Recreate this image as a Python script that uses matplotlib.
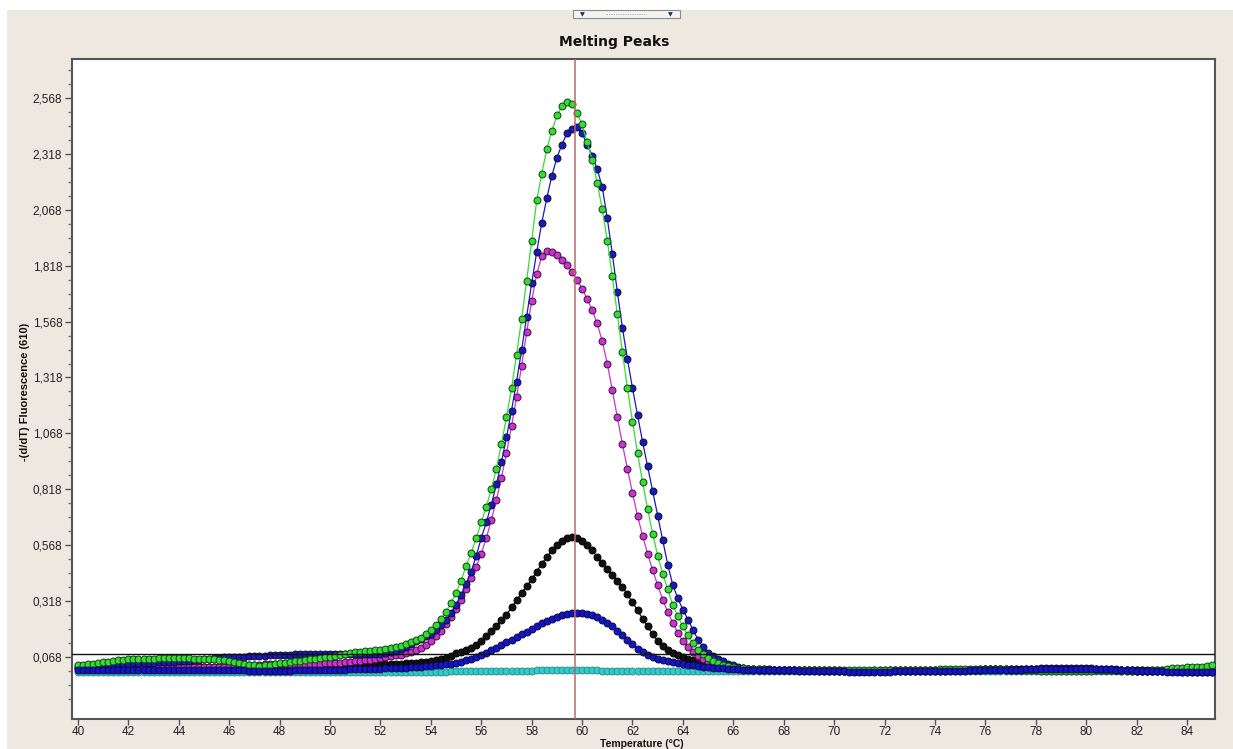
import numpy as np
import matplotlib
matplotlib.use("Agg")
import matplotlib.pyplot as plt
from matplotlib.patches import Rectangle

# ---------------- data ----------------
# temperature grid: acquisitions every 0.2 degC from 40 to 85
temperature = np.round(np.arange(40.0, 85.0001, 0.2), 1)

green = [
    .030, .032, .035, .038, .041,   # 40
    .044, .047, .050, .053, .055,   # 41
    .057, .058, .059, .060, .061,   # 42
    .061, .062, .062, .062, .062,   # 43
    .062, .062, .062, .061, .061,   # 44
    .060, .059, .058, .056, .053,   # 45
    .050, .046, .042, .038, .034,   # 46
    .030, .029, .030, .033, .036,   # 47
    .039, .042, .045, .048, .051,   # 48
    .054, .057, .060, .063, .066,   # 49
    .070, .074, .078, .082, .086,   # 50
    .089, .092, .094, .096, .098,   # 51
    .100, .103, .107, .112, .118,   # 52
    .125, .133, .142, .154, .170,   # 53
    .190, .210, .240, .270, .310,   # 54
    .355, .410, .475, .535, .600,   # 55
    .670, .740, .820, .910, 1.020,  # 56
    1.140, 1.270, 1.420, 1.580, 1.750,  # 57
    1.930, 2.110, 2.230, 2.340, 2.420,  # 58
    2.490, 2.530, 2.550, 2.540, 2.500,  # 59
    2.450, 2.370, 2.290, 2.190, 2.070,  # 60
    1.930, 1.770, 1.600, 1.430, 1.270,  # 61
    1.120, .980, .850, .730, .620,  # 62
    .520, .440, .370, .300, .250,   # 63
    .205, .165, .130, .100, .080,   # 64
    .063, .050, .040, .032, .026,   # 65
    .022, .019, .017, .015, .014,   # 66
    .013, .013, .012, .012, .012,   # 67
    .012, .011, .011, .011, .010,   # 68
    .010, .010, .010, .009, .009,   # 69
    .009, .008, .008, .008, .008,   # 70
    .008, .008, .008, .009, .009,   # 71
    .009, .010, .010, .010, .011,   # 72
    .011, .011, .012, .012, .012,   # 73
    .012, .013, .013, .013, .013,   # 74
    .014, .014, .014, .015, .015,   # 75
    .015, .015, .014, .014, .013,   # 76
    .012, .011, .010, .009, .008,   # 77
    .008, .007, .007, .007, .007,   # 78
    .006, .006, .006, .006, .006,   # 79
    .007, .007, .008, .008, .009,   # 80
    .009, .008, .007, .007, .006,   # 81
    .006, .006, .007, .008, .010,   # 82
    .012, .014, .017, .019, .021,   # 83
    .022, .023, .024, .025, .027,   # 84
    .030,                           # 85
]

blue_high = [
    .028, .029, .030, .031, .032,   # 40
    .033, .034, .035, .036, .037,   # 41
    .038, .039, .040, .041, .042,   # 42
    .043, .044, .045, .046, .047,   # 43
    .048, .050, .052, .054, .056,   # 44
    .058, .060, .062, .064, .066,   # 45
    .067, .068, .069, .070, .071,   # 46
    .072, .073, .074, .075, .076,   # 47
    .077, .078, .079, .080, .081,   # 48
    .081, .082, .082, .083, .083,   # 49
    .083, .083, .083, .082, .082,   # 50
    .081, .080, .080, .080, .081,   # 51
    .083, .086, .090, .096, .104,   # 52
    .114, .126, .138, .150, .160,   # 53
    .170, .190, .210, .235, .265,   # 54
    .300, .345, .395, .450, .520,   # 55
    .600, .670, .750, .840, .940,   # 56
    1.050, 1.170, 1.300, 1.440, 1.590,  # 57
    1.740, 1.880, 2.010, 2.120, 2.220,  # 58
    2.300, 2.360, 2.410, 2.430, 2.440,  # 59
    2.410, 2.360, 2.310, 2.250, 2.170,  # 60
    2.030, 1.870, 1.700, 1.540, 1.400,  # 61
    1.270, 1.150, 1.030, .920, .810,    # 62
    .700, .590, .480, .390, .330,   # 63
    .280, .235, .190, .145, .113,   # 64
    .086, .072, .060, .048, .038,   # 65
    .030, .024, .019, .015, .013,   # 66
    .012, .011, .011, .010, .010,   # 67
    .010, .009, .009, .009, .008,   # 68
    .008, .008, .007, .007, .006,   # 69
    .006, .005, .005, .005, .004,   # 70
    .004, .004, .004, .004, .004,   # 71
    .005, .005, .005, .006, .006,   # 72
    .006, .006, .007, .007, .007,   # 73
    .007, .007, .007, .008, .008,   # 74
    .008, .009, .010, .011, .012,   # 75
    .013, .013, .014, .014, .014,   # 76
    .014, .014, .015, .015, .016,   # 77
    .016, .017, .017, .017, .017,   # 78
    .017, .017, .017, .017, .017,   # 79
    .017, .017, .016, .016, .015,   # 80
    .014, .013, .012, .011, .010,   # 81
    .009, .008, .007, .006, .006,   # 82
    .005, .005, .004, .004, .003,   # 83
    .003, .002, .002, .002, .002,   # 84
    .002,                           # 85
]

magenta = [
    .020, .021, .022, .022, .023,   # 40
    .023, .023, .024, .024, .024,   # 41
    .024, .024, .024, .024, .024,   # 42
    .024, .024, .023, .023, .023,   # 43
    .023, .023, .023, .023, .023,   # 44
    .023, .023, .023, .024, .024,   # 45
    .025, .026, .027, .029, .031,   # 46
    .033, .034, .035, .036, .036,   # 47
    .036, .036, .036, .036, .036,   # 48
    .036, .037, .037, .038, .039,   # 49
    .040, .041, .042, .044, .046,   # 50
    .048, .050, .053, .056, .059,   # 51
    .063, .067, .071, .075, .079,   # 52
    .085, .092, .100, .110, .122,   # 53
    .140, .160, .185, .215, .247,   # 54
    .282, .325, .370, .420, .470,   # 55
    .530, .600, .680, .770, .870,   # 56
    .980, 1.100, 1.230, 1.370, 1.520,  # 57
    1.660, 1.780, 1.860, 1.885, 1.880,  # 58
    1.865, 1.845, 1.820, 1.790, 1.755,  # 59
    1.715, 1.670, 1.620, 1.560, 1.480,  # 60
    1.380, 1.260, 1.140, 1.020, .910,   # 61
    .800, .700, .610, .530, .455,   # 62
    .390, .325, .268, .220, .175,   # 63
    .140, .113, .090, .072, .058,   # 64
    .047, .038, .031, .025, .021,   # 65
    .018, .016, .014, .013, .012,   # 66
    .012, .011, .011, .011, .010,   # 67
    .010, .010, .010, .009, .009,   # 68
    .009, .009, .008, .008, .008,   # 69
    .008, .007, .007, .007, .007,   # 70
    .007, .007, .007, .008, .008,   # 71
    .008, .008, .009, .009, .009,   # 72
    .010, .010, .010, .010, .010,   # 73
    .011, .011, .011, .011, .011,   # 74
    .012, .012, .012, .012, .013,   # 75
    .013, .013, .013, .013, .012,   # 76
    .012, .011, .011, .010, .010,   # 77
    .010, .010, .009, .009, .009,   # 78
    .009, .009, .009, .009, .009,   # 79
    .009, .009, .009, .009, .009,   # 80
    .009, .008, .008, .008, .007,   # 81
    .007, .007, .007, .007, .008,   # 82
    .008, .009, .010, .011, .012,   # 83
    .013, .014, .015, .016, .017,   # 84
    .018,                           # 85
]

black = [
    .018, .018, .019, .019, .020,   # 40
    .020, .020, .021, .021, .021,   # 41
    .021, .022, .022, .022, .022,   # 42
    .022, .022, .022, .022, .022,   # 43
    .022, .022, .022, .022, .022,   # 44
    .022, .022, .022, .021, .021,   # 45
    .021, .021, .020, .020, .020,   # 46
    .020, .020, .020, .020, .020,   # 47
    .020, .020, .021, .021, .021,   # 48
    .022, .022, .023, .023, .024,   # 49
    .024, .025, .026, .027, .028,   # 50
    .029, .030, .031, .032, .033,   # 51
    .034, .035, .036, .037, .038,   # 52
    .040, .041, .043, .045, .047,   # 53
    .049, .053, .058, .064, .072,   # 54
    .085, .092, .100, .109, .122,   # 55
    .140, .162, .185, .208, .232,   # 56
    .257, .290, .322, .355, .385,   # 57
    .415, .450, .485, .515, .545,   # 58
    .568, .586, .598, .604, .600,   # 59
    .588, .570, .545, .515, .487,   # 60
    .460, .435, .410, .380, .348,   # 61
    .313, .276, .240, .205, .170,   # 62
    .140, .116, .098, .085, .075,   # 63
    .067, .060, .055, .050, .045,   # 64
    .040, .036, .032, .028, .025,   # 65
    .022, .020, .018, .016, .015,   # 66
    .014, .013, .013, .012, .012,   # 67
    .011, .011, .011, .010, .010,   # 68
    .010, .009, .009, .009, .008,   # 69
    .008, .008, .007, .007, .007,   # 70
    .007, .007, .007, .007, .007,   # 71
    .007, .008, .008, .008, .008,   # 72
    .008, .009, .009, .009, .009,   # 73
    .009, .009, .009, .010, .010,   # 74
    .010, .011, .011, .012, .012,   # 75
    .013, .013, .014, .014, .014,   # 76
    .014, .014, .014, .014, .014,   # 77
    .014, .014, .014, .014, .013,   # 78
    .013, .013, .013, .013, .013,   # 79
    .013, .013, .013, .012, .012,   # 80
    .012, .011, .011, .010, .010,   # 81
    .009, .009, .008, .008, .007,   # 82
    .007, .007, .006, .006, .006,   # 83
    .006, .006, .006, .006, .006,   # 84
    .006,                           # 85
]

blue_low = [
    .012, .012, .011, .011, .011,   # 40
    .010, .010, .010, .010, .010,   # 41
    .010, .010, .010, .010, .010,   # 42
    .010, .010, .010, .010, .010,   # 43
    .010, .010, .010, .010, .010,   # 44
    .010, .010, .009, .009, .009,   # 45
    .008, .008, .008, .008, .007,   # 46
    .007, .007, .007, .007, .007,   # 47
    .007, .007, .007, .008, .008,   # 48
    .008, .009, .009, .010, .010,   # 49
    .011, .011, .012, .012, .013,   # 50
    .013, .014, .014, .015, .015,   # 51
    .016, .017, .018, .019, .020,   # 52
    .021, .022, .023, .025, .026,   # 53
    .028, .030, .032, .035, .038,   # 54
    .042, .047, .053, .060, .068,   # 55
    .077, .087, .098, .110, .122,   # 56
    .134, .146, .158, .170, .182,   # 57
    .194, .206, .218, .230, .240,   # 58
    .249, .256, .262, .265, .266,   # 59
    .264, .260, .254, .246, .235,   # 60
    .222, .205, .186, .165, .145,   # 61
    .125, .106, .090, .077, .067,   # 62
    .059, .053, .048, .044, .040,   # 63
    .036, .033, .030, .027, .025,   # 64
    .022, .020, .018, .017, .015,   # 65
    .014, .013, .012, .012, .011,   # 66
    .010, .010, .009, .009, .009,   # 67
    .008, .008, .008, .007, .007,   # 68
    .007, .006, .006, .006, .005,   # 69
    .005, .004, .004, .003, .003,   # 70
    .002, .002, .002, .002, .002,   # 71
    .003, .003, .004, .004, .004,   # 72
    .005, .005, .005, .005, .005,   # 73
    .005, .005, .005, .006, .006,   # 74
    .006, .007, .008, .009, .010,   # 75
    .011, .011, .012, .012, .012,   # 76
    .012, .012, .012, .013, .013,   # 77
    .014, .014, .015, .015, .015,   # 78
    .015, .015, .015, .015, .015,   # 79
    .015, .015, .015, .014, .014,   # 80
    .013, .012, .010, .009, .008,   # 81
    .007, .006, .005, .005, .004,   # 82
    .004, .003, .003, .002, .002,   # 83
    .001, .001, .000, .000, .000,   # 84
    .000,                           # 85
]

cyan = [
    .003, .003, .003, .003, .003,   # 40
    .003, .003, .003, .003, .003,   # 41
    .003, .003, .003, .003, .003,   # 42
    .003, .003, .003, .003, .003,   # 43
    .003, .003, .003, .003, .003,   # 44
    .002, .002, .002, .002, .002,   # 45
    .002, .002, .002, .002, .002,   # 46
    .002, .002, .002, .002, .002,   # 47
    .002, .002, .002, .002, .002,   # 48
    .002, .002, .002, .002, .002,   # 49
    .002, .002, .002, .002, .002,   # 50
    .002, .002, .002, .002, .002,   # 51
    .002, .002, .002, .002, .002,   # 52
    .002, .002, .002, .003, .003,   # 53
    .003, .003, .003, .003, .004,   # 54
    .004, .004, .004, .004, .005,   # 55
    .005, .005, .005, .006, .006,   # 56
    .006, .006, .007, .007, .007,   # 57
    .007, .008, .008, .008, .008,   # 58
    .008, .008, .008, .008, .008,   # 59
    .008, .008, .008, .008, .007,   # 60
    .007, .007, .007, .006, .006,   # 61
    .006, .006, .005, .005, .005,   # 62
    .005, .005, .005, .004, .004,   # 63
    .004, .004, .004, .004, .004,   # 64
    .004, .004, .004, .004, .004,   # 65
    .004, .004, .004, .004, .004,   # 66
    .004, .004, .004, .004, .004,   # 67
    .004, .004, .004, .004, .004,   # 68
    .004, .004, .004, .004, .004,   # 69
    .004, .004, .004, .004, .004,   # 70
    .004, .004, .004, .004, .004,   # 71
    .004, .004, .004, .004, .004,   # 72
    .004, .004, .004, .004, .004,   # 73
    .004, .004, .004, .004, .004,   # 74
    .004, .004, .004, .004, .004,   # 75
    .004, .004, .004, .004, .004,   # 76
    .004, .004, .004, .004, .004,   # 77
    .004, .004, .004, .004, .004,   # 78
    .004, .004, .004, .004, .004,   # 79
    .004, .004, .004, .004, .004,   # 80
    .004, .004, .004, .004, .004,   # 81
    .004, .004, .004, .004, .004,   # 82
    .004, .004, .004, .004, .004,   # 83
    .004, .004, .004, .004, .004,   # 84
    .004,                           # 85
]

y_tick_values = [0.068 + 0.25 * k for k in range(11)]
x_tick_values = list(range(40, 86, 2))
threshold_value = 0.080
tm_marker = 59.72

title_text = "Melting Peaks"
x_label = "Temperature (°C)"
y_label = "-(d/dT) Fluorescence (610)"

# ---------------- figure ----------------
W, H = 1233, 749
fig = plt.figure(figsize=(W / 100, H / 100), dpi=100, facecolor="white")
beige = "#EEE9E0"
fig.patches.append(Rectangle((7 / W, 0), 1 - 7 / W, (H - 10) / H,
                             transform=fig.transFigure, facecolor=beige,
                             edgecolor="none", zorder=-10))

# small drop-down control at the top
cx0, cx1, cy0, cy1 = 573, 680, 10, 18
fig.patches.append(Rectangle((cx0 / W, 1 - cy1 / H), (cx1 - cx0) / W, (cy1 - cy0) / H,
                             transform=fig.transFigure, facecolor="#F4F3EF",
                             edgecolor="#8A8A8A", linewidth=0.8, zorder=5))
fig.text(582 / W, 1 - 14.5 / H, "▼", fontsize=4.5, color="#1C2B5A",
         ha="center", va="center", zorder=6)
fig.text(670 / W, 1 - 14.5 / H, "▼", fontsize=4.5, color="#1C2B5A",
         ha="center", va="center", zorder=6)
fig.text(626 / W, 1 - 15 / H, "·" * 24, fontsize=4, color="#3A4A7A",
         ha="center", va="center", zorder=6)

fig.text(614 / W, 1 - 42 / H, title_text, fontsize=10, fontweight="bold",
         ha="center", va="center", color="#111111", family="DejaVu Sans")

ax = fig.add_axes([72 / W, 1 - 719 / H, (1215 - 72) / W, (719 - 59) / H])
ax.set_facecolor("white")

xmin = 40 - 6 / 25.2
xmax = 84 + 28 / 25.2
ymin = 0.068 - (719 - 657) / 223.6
ymax = 2.568 + (98 - 59) / 223.6
ax.set_xlim(xmin, xmax)
ax.set_ylim(ymin, ymax)

series = [
    (cyan, "#33CCCC", "#2A8F8F"),
    (black, "#111111", "#000000"),
    (magenta, "#CC33CC", "#3A103A"),
    (blue_high, "#1A1AB5", "#0A0A40"),
    (green, "#33DD33", "#153F15"),
    (blue_low, "#1414C8", "#0A0A40"),
]
for vals, face, edge in series:
    ax.plot(temperature, vals, "-", color=face, linewidth=0.9, zorder=3,
            marker="o", markersize=5.0, markerfacecolor=face,
            markeredgecolor=edge, markeredgewidth=0.7)

ax.axhline(threshold_value, color="#111111", linewidth=1.0, zorder=4)
ax.axvline(tm_marker, color="#B86A6A", linewidth=1.1, zorder=4)

for s in ax.spines.values():
    s.set_color("#555555")
    s.set_linewidth(1.5)

ax.set_yticks(y_tick_values)
ax.set_yticklabels([f"{v:.3f}".replace(".", ",") for v in y_tick_values])
ax.set_yticks([0.068 + 0.0625 * k for k in range(-3, 43) if k % 4 != 0
               and ymin < 0.068 + 0.0625 * k < ymax], minor=True)
ax.set_xticks(x_tick_values)
ax.set_xticklabels([str(v) for v in x_tick_values])

ax.tick_params(axis="y", which="major", direction="out", length=5,
               width=1, color="#555555", labelsize=8.5, labelcolor="#222222", pad=2)
ax.tick_params(axis="x", which="major", direction="out", length=4,
               width=1, color="#555555", labelsize=8.5, labelcolor="#222222", pad=1)
ax.tick_params(axis="y", which="minor", direction="out", length=3,
               width=1, color="#777777")
for lab in ax.get_xticklabels() + ax.get_yticklabels():
    lab.set_family("Liberation Sans")

fig.text(25 / W, 1 - 392 / H, y_label, rotation=90, fontsize=8,
         fontweight="bold", ha="center", va="center", color="#111111",
         family="Liberation Sans")
fig.text(642 / W, 0.0, x_label, fontsize=7.5, fontweight="bold",
         ha="center", va="bottom", color="#111111", family="Liberation Sans")

fig.savefig("out.png", dpi=100, facecolor="white")
